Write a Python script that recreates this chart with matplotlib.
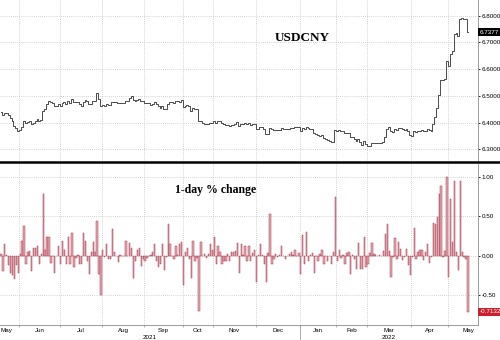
import matplotlib
matplotlib.use('Agg')
import matplotlib.pyplot as plt
from matplotlib.lines import Line2D
import numpy as np
import pandas as pd

# onshore trading days, May 2021 - May 2022
holidays = ['2021-06-14', '2021-09-20', '2021-09-21', '2021-10-01', '2021-10-04',
            '2021-10-05', '2021-10-06', '2021-10-07', '2022-01-03', '2022-01-31',
            '2022-02-01', '2022-02-02', '2022-02-03', '2022-02-04', '2022-04-04',
            '2022-04-05', '2022-05-02', '2022-05-03', '2022-05-04']
dates = pd.bdate_range('2021-05-18', '2022-05-19', freq='C', holidays=holidays)

usdcny = [
    6.440, 6.428, 6.437, 6.437, 6.430, 6.418, 6.405, 6.388, 6.380, 6.370,
    6.371, 6.383, 6.406, 6.399, 6.402, 6.406, 6.393, 6.400, 6.406, 6.414,
    6.407, 6.408, 6.445, 6.452, 6.468, 6.482, 6.476, 6.475, 6.462, 6.461,
    6.468, 6.462, 6.472, 6.476, 6.469, 6.480, 6.473, 6.487, 6.478, 6.476,
    6.476, 6.469, 6.463, 6.478, 6.485, 6.481, 6.468, 6.470, 6.480, 6.482,
    6.510, 6.490, 6.462, 6.465, 6.463, 6.470, 6.467, 6.464, 6.476, 6.478,
    6.477, 6.472, 6.473, 6.472, 6.472, 6.482, 6.481, 6.492, 6.500, 6.485,
    6.481, 6.485, 6.490, 6.482, 6.479, 6.475, 6.473, 6.472, 6.466, 6.468,
    6.476, 6.471, 6.461, 6.454, 6.462, 6.450, 6.449, 6.470, 6.478, 6.477,
    6.474, 6.480, 6.480, 6.478, 6.483, 6.458, 6.461, 6.467, 6.463, 6.445,
    6.456, 6.451, 6.449, 6.404, 6.406, 6.398, 6.396, 6.393, 6.394, 6.399,
    6.400, 6.405, 6.398, 6.404, 6.406, 6.399, 6.394, 6.390, 6.391, 6.387,
    6.390, 6.392, 6.394, 6.401, 6.388, 6.394, 6.394, 6.398, 6.393, 6.397,
    6.392, 6.393, 6.396, 6.376, 6.376, 6.383, 6.383, 6.377, 6.356, 6.358,
    6.380, 6.374, 6.371, 6.373, 6.371, 6.372, 6.378, 6.377, 6.375, 6.374,
    6.375, 6.378, 6.379, 6.383, 6.382, 6.384, 6.370, 6.380, 6.374, 6.383,
    6.378, 6.375, 6.374, 6.362, 6.358, 6.352, 6.350, 6.352, 6.344, 6.340,
    6.335, 6.332, 6.326, 6.326, 6.372, 6.368, 6.372, 6.369, 6.368, 6.360,
    6.360, 6.361, 6.346, 6.345, 6.340, 6.330, 6.338, 6.327, 6.317, 6.330,
    6.320, 6.313, 6.314, 6.323, 6.324, 6.324, 6.323, 6.324, 6.323, 6.327,
    6.345, 6.375, 6.385, 6.367, 6.366, 6.375, 6.372, 6.378, 6.380, 6.375,
    6.373, 6.377, 6.368, 6.352, 6.350, 6.368, 6.365, 6.367, 6.370, 6.372,
    6.368, 6.370, 6.377, 6.371, 6.370, 6.396, 6.422, 6.453, 6.503, 6.560,
    6.559, 6.563, 6.629, 6.611, 6.658, 6.669, 6.732, 6.736, 6.723, 6.787,
    6.790, 6.789, 6.786, 6.7377]

pct_change = [
    0.02, -0.20, 0.15, 0.01, -0.12, -0.22, -0.25, -0.30, -0.12, -0.22,
    0.02, 0.18, 0.37, -0.11, 0.05, 0.06, -0.20, 0.10, 0.10, 0.12,
    -0.11, 0.02, 0.78, 0.07, 0.23, 0.23, -0.09, -0.01, -0.22, -0.01,
    0.12, -0.11, 0.19, 0.07, -0.11, 0.24, -0.11, 0.28, -0.15, -0.03,
    0.01, -0.11, -0.11, 0.28, 0.18, -0.07, -0.24, 0.05, 0.17, 0.05,
    0.44, -0.24, -0.50, 0.07, -0.02, 0.14, -0.05, -0.05, 0.34, 0.05,
    -0.01, -0.08, 0.01, -0.01, -0.01, 0.19, -0.01, 0.16, 0.10, -0.28,
    -0.07, 0.07, 0.10, -0.13, -0.05, -0.07, -0.03, -0.01, 0.01, 0.05,
    0.14, -0.07, -0.15, -0.11, 0.14, -0.19, -0.02, 0.40, 0.14, -0.01,
    -0.05, 0.12, 0.01, 0.14, 0.17, -0.38, 0.05, 0.10, -0.05, -0.28,
    0.18, -0.07, -0.03, -0.70, 0.17, -0.01, 0.02, -0.03, 0.02, 0.15,
    0.07, 0.23, -0.11, 0.12, 0.05, -0.11, -0.07, -0.07, 0.02, -0.07,
    0.05, 0.05, 0.06, 0.16, -0.22, 0.14, 0.01, 0.12, -0.07, 0.12,
    -0.07, 0.03, 0.07, -0.34, 0.01, 0.14, 0.01, -0.11, -0.33, 0.03,
    0.53, -0.11, -0.04, 0.02, -0.02, 0.01, 0.12, -0.01, -0.04, -0.01,
    0.02, 0.05, 0.01, 0.07, -0.01, 0.03, -0.24, 0.26, -0.11, 0.30,
    -0.07, 0.01, 0.03, -0.22, -0.01, -0.07, 0.02, 0.07, -0.11, -0.01,
    -0.07, -0.01, -0.11, 0.05, 0.74, -0.07, 0.07, -0.03, 0.01, -0.11,
    0.03, 0.05, -0.24, 0.01, -0.04, -0.17, 0.16, -0.17, -0.17, 0.24,
    -0.15, -0.11, 0.03, 0.16, 0.02, 0.01, 0.00, 0.01, 0.00, 0.06,
    0.27, 0.40, 0.06, -0.27, -0.02, 0.22, -0.04, 0.17, 0.08, -0.06,
    -0.02, 0.08, -0.12, -0.25, -0.02, 0.35, -0.04, 0.04, 0.07, 0.07,
    -0.06, 0.04, 0.15, -0.10, -0.02, 0.41, 0.40, 0.49, 0.78, 0.88,
    -0.02, 0.06, 1.00, -0.27, 0.71, 0.17, 0.95, 0.05, -0.19, 0.95,
    0.05, -0.02, -0.04, -0.7132]

top_ticks = [6.3, 6.4, 6.5, 6.6, 6.7, 6.8]
bottom_ticks = [-0.5, 0.0, 0.5, 1.0]

line_color = '#4a4a4a'
bar_face = '#e6aab3'
bar_edge = '#a83a4c'
grid_color = '#c4c4c4'
last_red = '#c8202e'

x = np.arange(len(dates))
xmin, xmax = -0.5, 248.2

# month boundaries (index of first trading day of each month)
months = pd.Series(dates.to_period('M'))
starts = [i for i in range(len(months)) if i == 0 or months[i] != months[i - 1]]
bounds = [s - 0.5 for s in starts[1:]]
month_names = [dates[s].strftime('%b') for s in starts]

fig = plt.figure(figsize=(5, 3.4), dpi=100)
ax1 = fig.add_axes([0, 1 - 161 / 340, 478 / 500, 161 / 340])
ax2 = fig.add_axes([0, 1 - 325 / 340, 478 / 500, 161 / 340])

tick_font = dict(family='Liberation Sans', size=4.5)

# top panel: level
ax1.plot(x, usdcny, color=line_color, lw=0.7, drawstyle='steps-mid', zorder=3)
ax1.set_ylim(6.256, 6.859)
ax1.set_yticks(top_ticks)
ax1.set_yticklabels(['%.4f' % t for t in top_ticks], **tick_font)
ax1.text(0.632, 0.764, 'USDCNY', transform=ax1.transAxes, ha='center', va='center',
         family='Liberation Serif', weight='bold', size=9.5)

# bottom panel: daily change
ax2.bar(x, pct_change, width=0.7, color=bar_face, edgecolor=bar_edge, linewidth=0.35, zorder=3)
ax2.set_ylim(-0.881, 1.16)
ax2.set_yticks(bottom_ticks)
ax2.set_yticklabels(['%.2f' % t for t in bottom_ticks], **tick_font)
ax2.text(0.452, 0.839, '1-day % change', transform=ax2.transAxes, ha='center', va='center',
         family='Liberation Serif', weight='bold', size=8.5)

for ax in (ax1, ax2):
    ax.set_xlim(xmin, xmax)
    ax.yaxis.tick_right()
    ax.tick_params(axis='y', length=1.5, width=0.6, pad=1, colors='black')
    ax.set_xticks(bounds)
    ax.grid(True, color=grid_color, linestyle=(0, (1, 1.5)), linewidth=0.6, zorder=0)
    for s in ('top', 'left'):
        ax.spines[s].set_visible(False)
    ax.spines['right'].set_color('#8c8c8c')
    ax.spines['right'].set_linewidth(0.6)

ax1.spines['bottom'].set_visible(False)
ax1.tick_params(axis='x', length=0, labelbottom=False)
ax2.spines['bottom'].set_color('#8c8c8c')
ax2.spines['bottom'].set_linewidth(0.6)
ax2.tick_params(axis='x', length=1.5, width=0.5, colors='#8c8c8c', labelbottom=False)

# month and year labels
edges = [xmin] + bounds + [xmax + 6]
for k, name in enumerate(month_names):
    c = (edges[k] + edges[k + 1]) / 2
    if k == 0:
        ax2.text(0.0, -0.035, name, transform=ax2.get_xaxis_transform(), ha='left', va='center',
                 family='Liberation Sans', size=4.5)
    else:
        ax2.text(c, -0.035, name, transform=ax2.get_xaxis_transform(), ha='center', va='center',
                 family='Liberation Sans', size=4.5)

year_split = bounds[month_names.index('Jan') - 1]
ax2.text((xmin + year_split) / 2, -0.075, '2021', transform=ax2.get_xaxis_transform(),
         ha='center', va='center', family='Liberation Sans', size=4.5)
ax2.text((year_split + xmax) / 2, -0.075, '2022', transform=ax2.get_xaxis_transform(),
         ha='center', va='center', family='Liberation Sans', size=4.5)
ax2.plot([year_split, year_split], [0, -0.095], transform=ax2.get_xaxis_transform(),
         color='#8c8c8c', lw=0.5, clip_on=False)

# last value boxes
ax1.text(1.004, usdcny[-1], '%.4f' % usdcny[-1], transform=ax1.get_yaxis_transform(),
         ha='left', va='center', color='white', family='Liberation Sans', size=4.5,
         bbox=dict(boxstyle='square,pad=0.25', fc='black', ec='none'))
ax2.text(1.004, pct_change[-1], '%.4f' % pct_change[-1], transform=ax2.get_yaxis_transform(),
         ha='left', va='center', color='white', family='Liberation Sans', size=4.5,
         bbox=dict(boxstyle='square,pad=0.25', fc=last_red, ec='none'))

# thick separator between panels
fig.add_artist(Line2D([0, 1], [1 - 162 / 340, 1 - 162 / 340], transform=fig.transFigure,
                      color='black', lw=1.8))

fig.savefig('out.png', dpi=100, facecolor='white')
